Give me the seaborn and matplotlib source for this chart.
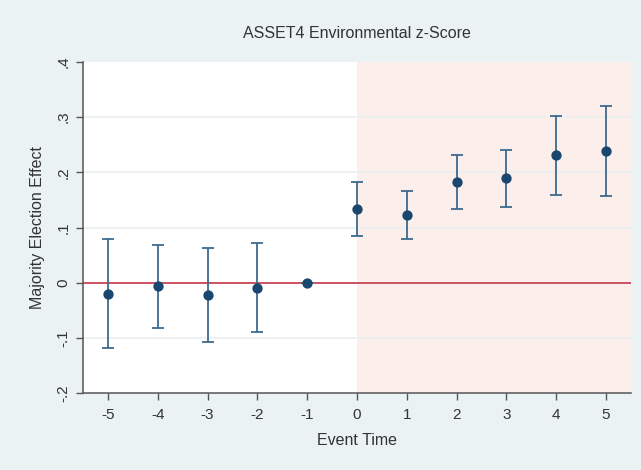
import matplotlib
matplotlib.use("Agg")
import matplotlib.pyplot as plt
import seaborn as sns
import pandas as pd
import numpy as np

event_time = [-5, -4, -3, -2, -1, 0, 1, 2, 3, 4, 5]
estimate = [-0.020, -0.006, -0.022, -0.009, 0.0, 0.134, 0.123, 0.182, 0.189, 0.231, 0.239]
ci_low = [-0.118, -0.082, -0.107, -0.090, 0.0, 0.085, 0.080, 0.133, 0.137, 0.159, 0.158]
ci_high = [0.079, 0.069, 0.063, 0.072, 0.0, 0.182, 0.167, 0.231, 0.241, 0.303, 0.320]
y_ticks = [-0.2, -0.1, 0.0, 0.1, 0.2, 0.3, 0.4]
y_tick_labels = ["-.2", "-.1", "0", ".1", ".2", ".3", ".4"]

df = pd.DataFrame({"t": event_time, "b": estimate, "lo": ci_low, "hi": ci_high})

sns.set_theme(style="white")
plt.rcParams["font.family"] = ["Liberation Sans", "DejaVu Sans"]

bg = "#EAF2F3"
navy = "#1A476F"
fig = plt.figure(figsize=(6.41, 4.70), dpi=100, facecolor=bg)
ax = fig.add_axes([83/641, 1 - 393/470, (631 - 83)/641, (393 - 62)/470])
ax.set_facecolor("white")

ax.set_xlim(-5.5, 5.5)
ax.set_ylim(-0.2, 0.4)

# post-event shading
ax.axvspan(0, 5.5, color="#FCEFEB", zorder=0, lw=0)

# grid lines
for y in y_ticks[1:-1]:
    ax.axhline(y, color="#EAEFF0", lw=1.2, zorder=0.5)

ax.axhline(0, color="#C0283C", lw=1.1, zorder=1)

ax.errorbar(df["t"], df["b"], yerr=[df["b"] - df["lo"], df["hi"] - df["b"]],
            fmt="none", ecolor="#3E6A8F", elinewidth=1.3, capsize=4.5, capthick=1.3, zorder=2)
sns.scatterplot(data=df, x="t", y="b", ax=ax, color=navy, s=55, edgecolor=navy,
                linewidth=0, zorder=3)

ax.set_xticks(event_time)
ax.set_xticklabels([str(v) for v in event_time], fontsize=11, color="#333333")
ax.set_yticks(y_ticks)
ax.set_yticklabels(y_tick_labels, fontsize=11, color="#333333", rotation=90, va="center")

for s in ["top", "right"]:
    ax.spines[s].set_visible(False)
for s in ["left", "bottom"]:
    ax.spines[s].set_color("#555555")
    ax.spines[s].set_linewidth(1.1)

ax.tick_params(axis="both", which="both", direction="out", length=5, width=1,
               color="#555555", bottom=True, left=True)
ax.tick_params(axis="x", pad=6)
ax.tick_params(axis="y", pad=4)

ax.set_xlabel("Event Time", fontsize=11.5, color="#333333", labelpad=8)
ax.set_ylabel("Majority Election Effect", fontsize=11.5, color="#333333", labelpad=8)
ax.set_title("ASSET4 Environmental z-Score", fontsize=11.5, color="#333333", pad=17)

fig.savefig("out.png", dpi=100, facecolor=bg)
